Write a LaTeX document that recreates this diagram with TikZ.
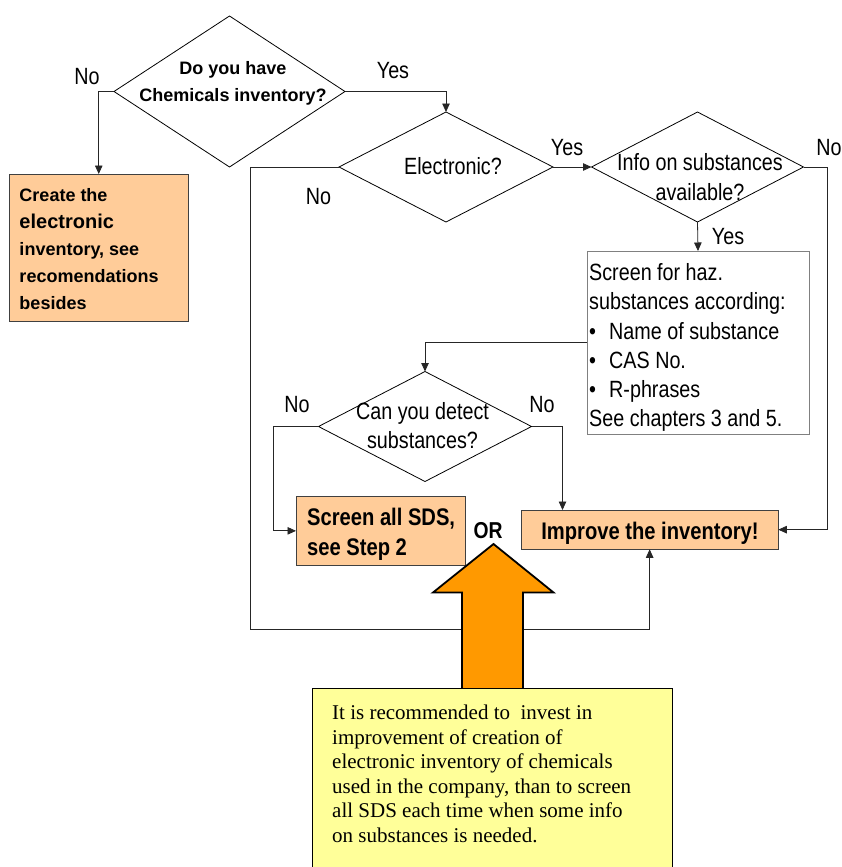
\documentclass[tikz,border=0pt]{standalone}
\usepackage{fontspec}
\setmainfont{Liberation Sans}
\newfontfamily\narrowsans[FakeStretch=0.84]{Liberation Sans}
\newfontfamily\notefont{Liberation Serif}
\usetikzlibrary{shapes.geometric,arrows.meta}
\definecolor{peach}{HTML}{FFCC99}
\definecolor{noteyellow}{HTML}{FFFF99}
\definecolor{bigorange}{HTML}{FF9900}
\begin{document}
\begin{tikzpicture}[x=1pt,y=-1pt,
  conn/.style={draw=black!85, line width=0.8pt},
  arr/.style={conn, -{Triangle[length=8.5pt,width=7.5pt]}},
  decision/.style={diamond, draw=black, line width=0.8pt, inner sep=0pt, outer sep=0pt},
  pbox/.style={rectangle, draw=black!75, line width=0.8pt, fill=peach, inner sep=0pt, outer sep=0pt},
  wbox/.style={rectangle, draw=black!50, line width=1pt, fill=white, inner sep=0pt, outer sep=0pt},
  ntxt/.style={inner sep=0pt, outer sep=0pt, font=\narrowsans\fontsize{23.5}{28}\selectfont},
  nbtxt/.style={inner sep=0pt, outer sep=0pt, font=\narrowsans\bfseries\fontsize{24}{28}\selectfont}]
\useasboundingbox (0,0) rectangle (842,867);
\fill[white] (0,0) rectangle (842,867);

% decisions
\node[decision, minimum width=231, minimum height=151] (d1) at (229.5,91.5) {};
\node[inner sep=0pt, align=center, font=\bfseries\fontsize{18}{26.5}\selectfont, anchor=north] (d1t) at (233,61.5) {Do you have\\Chemicals inventory?};

\node[decision, minimum width=214, minimum height=110] (d2) at (446,167) {};
\node[ntxt, anchor=base] (d2t) at (453,174.3) {Electronic?};

\node[decision, minimum width=212, minimum height=110] (d2b) at (697.5,167) {};
\node[ntxt, align=center, font=\narrowsans\fontsize{23.5}{30}\selectfont, anchor=north] (d2bt) at (700,153.5) {Info on substances\\available?};

\node[decision, minimum width=213, minimum height=110] (d3) at (425,426.5) {};
\node[ntxt, align=center, font=\narrowsans\fontsize{23.5}{29}\selectfont, anchor=north] (d3t) at (422.5,402) {Can you detect\\substances?};

% boxes
\node[pbox, minimum width=178.5, minimum height=147, anchor=north west] (create) at (9.5,174) {};
\node[inner sep=0pt, align=left, anchor=north west, font=\bfseries\fontsize{18}{27}\selectfont] (createt) at (19.3,188) {Create the\\{\fontsize{20}{27}\selectfont electronic}\\inventory, see\\recomendations\\besides};

\node[wbox, minimum width=222, minimum height=183.5, anchor=north west] (screen) at (587,251) {};
\node[inner sep=0pt, align=left, anchor=north west, font=\narrowsans\fontsize{23.5}{29.2}\selectfont] (screent) at (589,263.5) {Screen for haz.\\substances according:\\\makebox[20pt][l]{•}Name of substance\\\makebox[20pt][l]{•}CAS No.\\\makebox[20pt][l]{•}R-phrases\\See chapters 3 and 5.};

\node[pbox, minimum width=169, minimum height=68.3, anchor=north west] (sds) at (296,496.7) {};
\node[inner sep=0pt, align=left, anchor=north west, font=\narrowsans\bfseries\fontsize{24}{29.3}\selectfont] (sdst) at (307,508.3) {Screen all SDS,\\see Step 2};

\node[pbox, minimum width=257.3, minimum height=39.3, anchor=north west] (improve) at (521,510) {};
\node[nbtxt, anchor=base] (improvet) at (650,539.3) {Improve the inventory!};

\node[nbtxt, font=\narrowsans\bfseries\fontsize{23}{28}\selectfont] (or) at (488,531) {OR};

% connectors
\coordinate (loopL) at (250,629);
\coordinate (rightX) at (827,167);
\coordinate (d3r) at (562.5,426.5);
\coordinate (d3l) at (273.5,426.5);
\draw[arr] (d1.west) -| (create.north);
\draw[arr] (d1.east) -| (d2.north);
\draw[arr] (d2.east) -- (d2b.west);
\draw[arr] (d2b.east) -- (rightX) |- (improve.east);
\draw[arr] (d2b.south) -- (screen.north);
\draw[arr] (screen.west) -| (d3.north);
\draw[arr] (d3.west) -- (d3l) |- (sds.west);
\draw[arr] (d3.east) -- (d3r) -- (d3r |- improve.north);
\draw[arr] (d2.west) -| (loopL) -| (improve.south);

% labels
\node[ntxt] (l1) at (87,76.5) {No};
\node[ntxt] (l2) at (393,70.5) {Yes};
\node[ntxt] (l3) at (567,148) {Yes};
\node[ntxt] (l4) at (318.5,196.5) {No};
\node[ntxt] (l5) at (829,148) {No};
\node[ntxt] (l6) at (728,237) {Yes};
\node[ntxt] (l7) at (297,405) {No};
\node[ntxt] (l8) at (542,405) {No};

% big arrow
\draw[fill=bigorange, draw=black, line width=1.8pt, line join=miter]
  (493.5,544) -- (553.5,592.5) -- (523,592.5) -- (523,690) -- (462,690) -- (462,592.5) -- (433,592.5) -- cycle;

% note
\node[rectangle, draw=black, line width=1pt, fill=noteyellow, minimum width=360, minimum height=200, anchor=north west, inner sep=0pt] (note) at (312,688) {};
\node[inner sep=0pt, align=left, anchor=north west, font=\notefont\fontsize{21}{24.5}\selectfont] (notet) at (332,705) {It is recommended to\ \ invest in\\improvement of creation of\\electronic inventory of chemicals\\used in the company, than to screen\\all SDS each time when some info\\on substances is needed.};
\end{tikzpicture}
\end{document}
